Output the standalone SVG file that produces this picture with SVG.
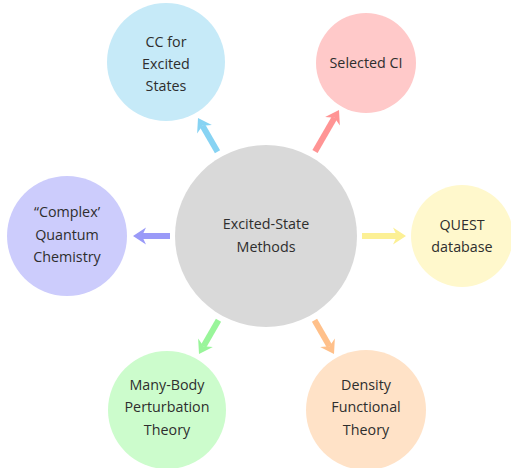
<svg xmlns="http://www.w3.org/2000/svg" width="511" height="468" viewBox="0 0 511 468">
<style>
text{font-family:"Open Sans","Noto Sans","DejaVu Sans",sans-serif;font-size:14.3px;fill:#2e2e2e;text-anchor:middle}
.ln{stroke-width:6;fill:none}
</style>
<defs>
<path id="hd" d="M0,0 L-13,-8.5 L-9,0 L-13,8.5 Z"/>
</defs>
<rect width="511" height="468" fill="#fff"/>
<g id="connectors">
<g transform="translate(198,118) rotate(-120)"><line class="ln" x1="-39" y1="0" x2="-9" y2="0" stroke="#87d3f3"/><use href="#hd" fill="#87d3f3"/></g>
<g transform="translate(339,110) rotate(-60)"><line class="ln" x1="-48" y1="0" x2="-9" y2="0" stroke="#ff9494"/><use href="#hd" fill="#ff9494"/></g>
<g transform="translate(133,236) rotate(180)"><line class="ln" x1="-37" y1="0" x2="-9" y2="0" stroke="#9a9af8"/><use href="#hd" fill="#9a9af8"/></g>
<g transform="translate(406,236)"><line class="ln" x1="-44" y1="0" x2="-9" y2="0" stroke="#fcf095"/><use href="#hd" fill="#fcf095"/></g>
<g transform="translate(199,354) rotate(120)"><line class="ln" x1="-39" y1="0" x2="-9" y2="0" stroke="#99f59a"/><use href="#hd" fill="#99f59a"/></g>
<g transform="translate(334,354) rotate(60)"><line class="ln" x1="-39" y1="0" x2="-9" y2="0" stroke="#ffc08a"/><use href="#hd" fill="#ffc08a"/></g>
</g>
<g id="center">
<circle cx="266" cy="236" r="91" fill="#d9d9d9"/>
<text x="266" y="229">Excited-State</text>
<text x="266" y="252">Methods</text>
</g>
<g id="cc">
<circle cx="166" cy="62" r="59" fill="#c6eaf8"/>
<text x="166" y="47">CC for</text>
<text x="166" y="69">Excited</text>
<text x="166" y="91">States</text>
</g>
<g id="sci">
<circle cx="366" cy="63" r="50" fill="#ffc9c9"/>
<text x="366" y="68">Selected CI</text>
</g>
<g id="complex">
<circle cx="67" cy="236" r="60" fill="#ccccfc"/>
<text x="67" y="217">“Complex’</text>
<text x="67" y="240">Quantum</text>
<text x="67" y="262">Chemistry</text>
</g>
<g id="quest">
<circle cx="462" cy="236" r="51" fill="#fff8cc"/>
<text x="462" y="230">QUEST</text>
<text x="462" y="252">database</text>
</g>
<g id="mbpt">
<circle cx="167" cy="410" r="59" fill="#ccfccc"/>
<text x="167" y="390">Many-Body</text>
<text x="167" y="412">Perturbation</text>
<text x="167" y="435">Theory</text>
</g>
<g id="dft">
<circle cx="366" cy="410" r="60" fill="#ffe2c7"/>
<text x="366" y="390">Density</text>
<text x="366" y="412">Functional</text>
<text x="366" y="435">Theory</text>
</g>
</svg>
